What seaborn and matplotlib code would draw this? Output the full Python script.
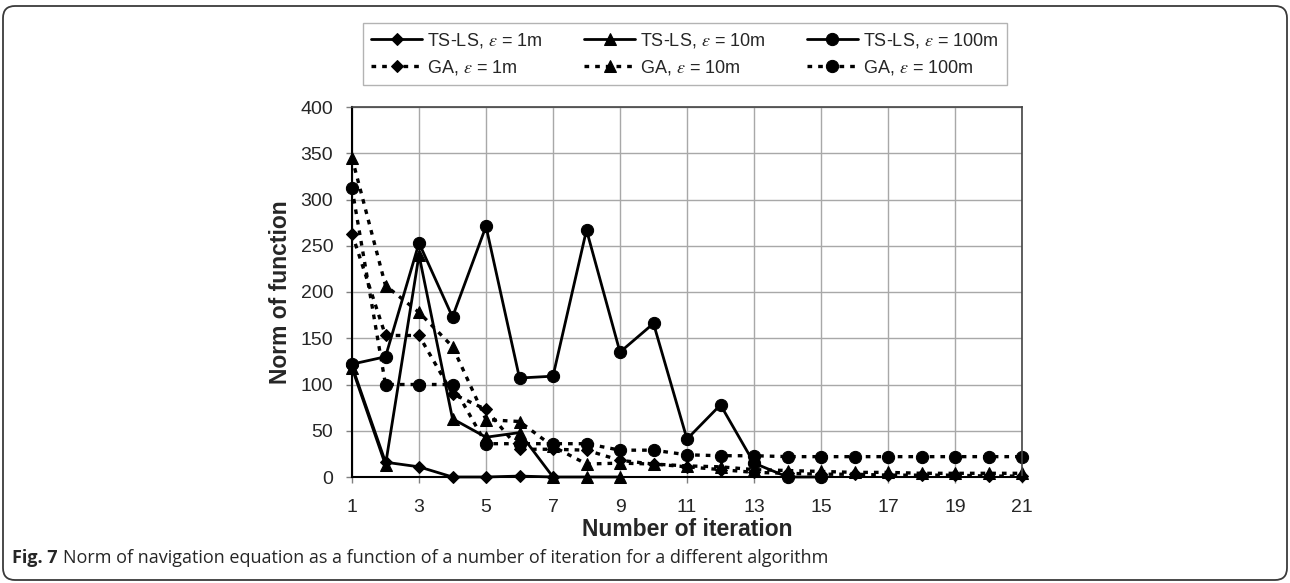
import numpy as np
import matplotlib
matplotlib.use('Agg')
import matplotlib.pyplot as plt
from matplotlib.patches import FancyBboxPatch
import seaborn as sns

# values
ts_1m = [120, 16, 11, 0, 0, 1, 0]
ts_10m = [118, 13, 240, 63, 43, 48, 0, 0, 0]
ts_100m = [122, 130, 253, 173, 271, 107, 109, 267, 135, 166, 41, 78, 15, 0, 0]
ga_1m = [263, 153, 153, 90, 73, 30, 30, 29, 18, 14, 11, 8, 5, 4, 3, 3, 2, 2, 2, 1, 1]
ga_10m = [345, 207, 178, 141, 62, 60, 33, 14, 15, 14, 12, 11, 8, 7, 6, 5, 5, 4, 4, 4, 4]
ga_100m = [312, 100, 100, 100, 36, 36, 36, 36, 29, 29, 24, 23, 23, 22, 22, 22, 22, 22, 22, 22, 22]
x_ticks = list(range(1, 22, 2))

sns.set_theme(style='white')
plt.rcParams['font.family'] = ['Liberation Sans', 'DejaVu Sans']
plt.rcParams['mathtext.fontset'] = 'stix'

W, H = 1290, 583
fig = plt.figure(figsize=(W / 100, H / 100), dpi=100)
# axes box in pixels: left 352, right 1022, top 107, bottom 477
ax_l, ax_r, ax_t, ax_b = 352, 1022, 107, 477
ax = fig.add_axes([ax_l / W, 1 - ax_b / H, (ax_r - ax_l) / W, (ax_b - ax_t) / H])

dot = (0, (1.4, 1.8))
series = [
    (ts_1m, 'D', '-', 6.5, r'TS-LS, $\varepsilon$ = 1m'),
    (ga_1m, 'D', dot, 6.5, r'GA, $\varepsilon$ = 1m'),
    (ts_10m, '^', '-', 9, r'TS-LS, $\varepsilon$ = 10m'),
    (ga_10m, '^', dot, 9, r'GA, $\varepsilon$ = 10m'),
    (ts_100m, 'o', '-', 8.8, r'TS-LS, $\varepsilon$ = 100m'),
    (ga_100m, 'o', dot, 8.8, r'GA, $\varepsilon$ = 100m'),
]

for vals, mk, ls, ms, lab in series:
    xs = np.arange(1, len(vals) + 1)
    sns.lineplot(x=xs, y=vals, ax=ax, color='black', marker=mk, markersize=ms,
                 markeredgecolor='black', markerfacecolor='black',
                 linestyle=ls, linewidth=2.0 if ls == '-' else 2.4,
                 label=lab, legend=False, clip_on=False)

ax.set_xlim(1, 21)
ax.set_ylim(0, 400)
ax.set_xticks(x_ticks)
ax.set_yticks(range(0, 401, 50))
ax.grid(True, color='#a8a8a8', linewidth=1.0)
ax.set_axisbelow(True)
for s in ['left', 'bottom']:
    ax.spines[s].set_color('black')
    ax.spines[s].set_linewidth(1.5)
for s in ['top', 'right']:
    ax.spines[s].set_color('#444444')
    ax.spines[s].set_linewidth(1.2)
ax.tick_params(axis='both', labelsize=14, length=4.5, width=1, color='#808080',
               direction='out', bottom=True, left=True)
ax.tick_params(axis='y', pad=9)
ax.tick_params(axis='x', pad=11)

ax.set_xlabel('Number of iteration', fontsize=16.5, fontweight='bold')
ax.xaxis.set_label_coords(0.5, -(518 - ax_b) / (ax_b - ax_t))
ax.set_ylabel('Norm of function', fontsize=16.5, fontweight='bold')
ax.yaxis.set_label_coords(-(ax_l - 292) / (ax_r - ax_l), 0.5)

handles, labels = ax.get_legend_handles_labels()
leg = fig.legend(handles, labels, ncol=3, loc='center', bbox_to_anchor=(685 / W, 1 - 54 / H),
                 fontsize=13, frameon=True, fancybox=False, edgecolor='#a0a0a0',
                 handlelength=2.8, handletextpad=0.3, columnspacing=2.3,
                 borderpad=0.45, labelspacing=0.45, borderaxespad=0)
leg.get_frame().set_linewidth(1.0)

# caption: bold figure number followed by regular text
cap_y = 1 - 563 / H
t1 = fig.text(12 / W, cap_y, 'Fig. 7', fontsize=13, fontweight='bold',
              family=['Open Sans', 'DejaVu Sans'], va='baseline')
fig.canvas.draw()
bb = t1.get_window_extent(renderer=fig.canvas.get_renderer())
fig.text((bb.x1 + 5) / W, cap_y,
         'Norm of navigation equation as a function of a number of iteration for a different algorithm',
         fontsize=13, family=['Open Sans', 'DejaVu Sans'], va='baseline')

frame = FancyBboxPatch((3, 3), 1284, 574, boxstyle='round,pad=0,rounding_size=12',
                       transform=None, fill=False, edgecolor='#3a3a3a', linewidth=1.3)
fig.patches.append(frame)

fig.savefig('out.png', dpi=100)
